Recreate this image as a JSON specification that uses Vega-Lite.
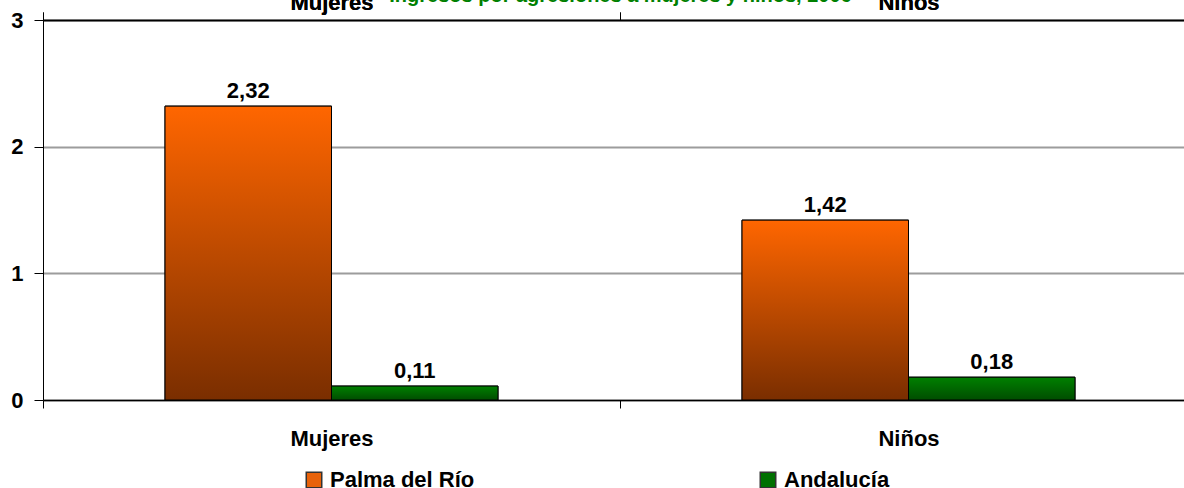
{
  "$schema": "https://vega.github.io/schema/vega-lite/v6.json",
  "width": 1154,
  "height": 380,
  "autosize": {"type": "none"},
  "padding": {"left": 43, "top": 20, "right": 0, "bottom": 88},
  "background": "white",
  "config": {
    "font": "Liberation Sans",
    "view": {"stroke": null},
    "locale": {"number": {"decimal": ",", "thousands": ".", "grouping": [3], "currency": ["", " €"]}}
  },
  "data": {
    "values": [
      {"grupo": "Mujeres", "zona": "Palma del Río", "tasa": 2.32},
      {"grupo": "Mujeres", "zona": "Andalucía", "tasa": 0.11},
      {"grupo": "Niños", "zona": "Palma del Río", "tasa": 1.42},
      {"grupo": "Niños", "zona": "Andalucía", "tasa": 0.18}
    ]
  },
  "encoding": {
    "x": {
      "field": "grupo", "type": "nominal", "sort": ["Mujeres", "Niños"],
      "scale": {"paddingInner": 0, "paddingOuter": 0},
      "axis": {
        "title": null, "labelAngle": 0, "labelFontSize": 22, "labelFontWeight": "bold",
        "labelColor": "black", "domainColor": "black", "domainWidth": 1.5,
        "tickColor": "black", "tickSize": 8, "tickBand": "extent", "labelPadding": 20
      }
    },
    "xOffset": {
      "field": "zona", "type": "nominal", "sort": ["Palma del Río", "Andalucía"],
      "scale": {"paddingInner": 0, "paddingOuter": 0.733}
    },
    "y": {
      "field": "tasa", "type": "quantitative",
      "scale": {"domain": [0, 3]},
      "axis": {
        "title": null, "values": [0, 1, 2, 3], "labelFontSize": 22, "labelFontWeight": "bold",
        "labelColor": "black", "domainColor": "black", "tickColor": "black", "tickSize": 9,
        "labelPadding": 11, "gridColor": "#9c9c9c", "gridWidth": 2
      }
    }
  },
  "layer": [
    {
      "mark": {"type": "bar", "stroke": "black", "strokeWidth": 1},
      "encoding": {
        "color": {
          "field": "zona", "type": "nominal", "sort": ["Palma del Río", "Andalucía"],
          "scale": {"domain": ["Palma del Río", "Andalucía"], "range": ["#e8620a", "#007000"]},
          "legend": {
            "title": null, "orient": "none", "direction": "horizontal",
            "legendX": 260, "legendY": 449,
            "labelFontSize": 22, "labelFontWeight": "bold", "labelColor": "black",
            "symbolType": "square", "symbolSize": 240, "symbolStrokeColor": "#333333",
            "symbolStrokeWidth": 1.5, "symbolOpacity": 1, "columnPadding": 282,
            "labelOffset": 5
          }
        }
      }
    },
    {
      "transform": [{"filter": "datum.zona === 'Palma del Río'"}],
      "mark": {
        "type": "bar", "stroke": "black", "strokeWidth": 1,
        "color": {"gradient": "linear", "x1": 0, "y1": 0, "x2": 0, "y2": 1, "stops": [{"offset": 0, "color": "#ff6600"}, {"offset": 1, "color": "#7a2e00"}]}
      }
    },
    {
      "transform": [{"filter": "datum.zona === 'Andalucía'"}],
      "mark": {
        "type": "bar", "stroke": "black", "strokeWidth": 1,
        "color": {"gradient": "linear", "x1": 0, "y1": 0, "x2": 0, "y2": 1, "stops": [{"offset": 0, "color": "#008000"}, {"offset": 1, "color": "#004d00"}]}
      }
    },
    {
      "mark": {"type": "text", "baseline": "alphabetic", "dy": -8, "fontSize": 22, "fontWeight": "bold", "color": "black"},
      "encoding": {
        "x": {
          "field": "grupo", "type": "nominal", "sort": ["Mujeres", "Niños"],
          "axis": {
            "orient": "top", "title": "Ingresos por agresiones a mujeres y niños, 2006",
            "labels": false, "ticks": false, "domain": false, "grid": false,
            "titleFontSize": 20, "titleFontWeight": "bold", "titleColor": "#008000",
            "titleFont": "Liberation Sans", "titleBaseline": "alphabetic", "titleY": -19
          }
        },
        "text": {"field": "tasa", "type": "quantitative", "format": ".2f"}
      }
    }
  ],
  "resolve": {"axis": {"x": "independent"}}
}
